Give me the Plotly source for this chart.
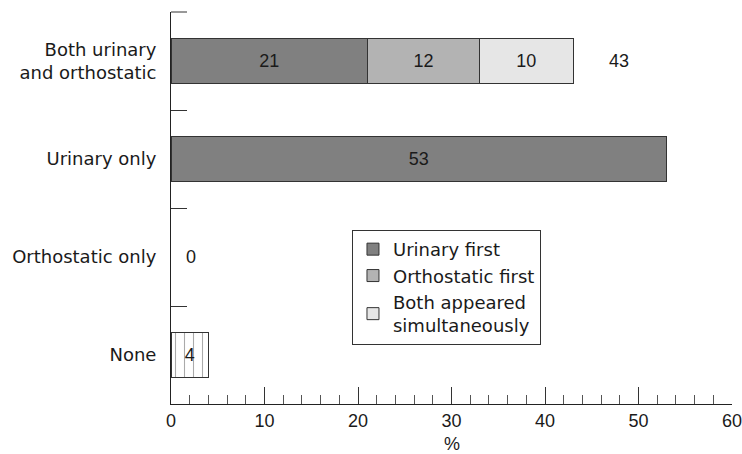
import plotly.graph_objects as go

categories = ["Both urinary<br>and orthostatic", "Urinary only", "Orthostatic only", "None"]
series_names = ["Urinary first", "Orthostatic first", "Both appeared<br>simultaneously"]
urinary_first = [21, 53]
urinary_first_cats = [categories[0], categories[1]]
orthostatic_first = [12]
both_simultaneous = [10]
none_value = [4]
orthostatic_only_value = 0
x_ticks = [0, 10, 20, 30, 40, 50, 60]
x_title = "%"

colors = ["#808080", "#b3b3b3", "#e6e6e6"]
TFONT = "DejaVu Sans, Liberation Sans, sans-serif"
NFONT = "Liberation Sans, Arial, Helvetica, sans-serif"
TC = "#1a1a1a"
line = dict(color="#333333", width=1)
numfont = dict(size=18, color=TC, family=NFONT)

fig = go.Figure()
fig.add_trace(go.Bar(
    y=urinary_first_cats, x=urinary_first, orientation="h", name=series_names[0],
    marker=dict(color=colors[0], line=line), text=[str(v) for v in urinary_first],
    textposition="inside", insidetextanchor="middle", textfont=numfont, width=0.46))
fig.add_trace(go.Bar(
    y=[categories[0]], x=orthostatic_first, orientation="h", name=series_names[1],
    marker=dict(color=colors[1], line=line), text=[str(v) for v in orthostatic_first],
    textposition="inside", insidetextanchor="middle", textfont=numfont, width=0.46))
fig.add_trace(go.Bar(
    y=[categories[0]], x=both_simultaneous, orientation="h", name=series_names[2],
    marker=dict(color=colors[2], line=line), text=[str(v) for v in both_simultaneous],
    textposition="inside", insidetextanchor="middle", textfont=numfont, width=0.46))
fig.add_trace(go.Bar(
    y=[categories[3]], x=none_value, orientation="h", showlegend=False,
    marker=dict(color="white", line=line,
                pattern=dict(shape="|", fgcolor="#555", bgcolor="white", size=9, solidity=0.12)),
    text=[str(v) for v in none_value], textposition="inside", insidetextanchor="middle",
    textfont=numfont, width=0.46))

total = urinary_first[0] + orthostatic_first[0] + both_simultaneous[0]
fig.add_annotation(x=total, y=categories[0], text=str(total), showarrow=False,
                   xanchor="left", xshift=34, font=numfont)
fig.add_annotation(x=orthostatic_only_value, y=categories[2], text=str(orthostatic_only_value),
                   showarrow=False, xanchor="left", xshift=13, font=numfont)
# x-axis title
fig.add_annotation(xref="paper", yref="paper", x=0.501, y=0, yanchor="top", yshift=-28,
                   text=x_title, showarrow=False, font=numfont)
# top boundary tick on the category axis
fig.add_shape(type="line", xref="paper", yref="paper", x0=0, x1=16 / 561, y0=1, y1=1,
              line=dict(color="#333", width=1))

fig.update_layout(
    width=742, height=454, barmode="stack",
    margin=dict(l=171, r=10, t=12, b=50),
    plot_bgcolor="white", paper_bgcolor="white",
    font=dict(family=TFONT, size=18, color=TC),
    legend=dict(x=0.3226, y=0.444, xanchor="left", yanchor="top", traceorder="normal",
                bordercolor="#333", borderwidth=1, bgcolor="white",
                font=dict(size=18, family=TFONT, color=TC), tracegroupgap=0),
)
fig.update_xaxes(
    range=[0, 60], tickvals=x_ticks, ticks="inside", ticklen=17, tickcolor="#333",
    showline=True, linecolor="#222", linewidth=1, showgrid=False, zeroline=False,
    automargin=False, ticklabeloverflow="allow",
    tickfont=dict(size=18, family=NFONT, color=TC),
    minor=dict(dtick=2, ticks="inside", ticklen=9, tickcolor="#555", showgrid=False),
)
fig.update_yaxes(
    categoryorder="array", categoryarray=categories, autorange="reversed",
    range=[3.5, -0.5], tickson="boundaries", ticks="inside", ticklen=16, tickcolor="#333",
    showline=True, linecolor="#222", linewidth=1, showgrid=False, automargin=False,
    tickfont=dict(size=18, family=TFONT, color=TC), ticklabelstandoff=10,
)
fig.write_html("out.html", config={"displayModeBar": False},
               post_script="document.body.style.margin='0';")
